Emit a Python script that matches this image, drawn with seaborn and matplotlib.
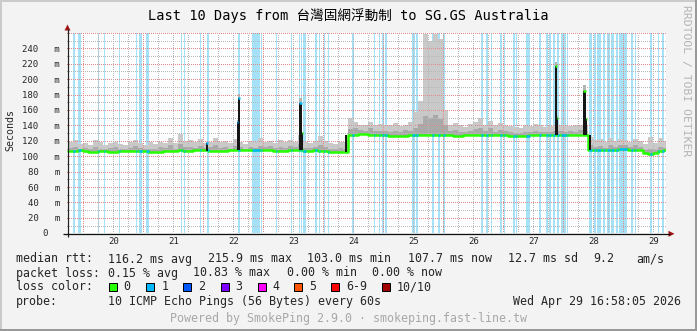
import numpy as np
import pandas as pd
import matplotlib
matplotlib.use("Agg")
import matplotlib.pyplot as plt
from matplotlib import transforms as mtransforms
from matplotlib.patches import Polygon, Rectangle
import seaborn as sns

# ---------------- data (hours since Apr 20 00:00, values in ms) ----------------
bin_hours = np.arange(-6, 234, 2)          # 2-hour bins
end_hour = 232.97                          # Apr 29 16:58

median_ms = [
    107, 107, 107.5,
    107, 105.5, 105.5, 107, 107, 105.5, 105.5, 107, 107, 107, 107, 107,
    107, 105.5, 105.5, 105.5, 107, 107, 107, 107.5, 107, 107, 107.5, 107.5,
    108, 107, 107, 107, 107, 107.5, 108, 108, 107.5, 107.5, 107.5, 108,
    108, 108, 107, 107, 107, 107.5, 108, 107.5, 107, 107, 107.5, 106.5,
    106.5, 106, 106, 106, 106, 127.5, 128, 128.5, 128.5, 128, 128, 128,
    128, 126.5, 126.5, 126.5, 126.5, 127, 128, 128, 128, 128, 128, 128,
    128, 127, 126.5, 126.5, 127, 128, 128, 128, 128, 128, 128, 128,
    128, 126.5, 126, 126, 126.5, 128, 128, 128, 128, 128, 128, 128,
    128, 128, 128, 128, 128, 108, 108, 108, 108, 108.5, 108.5, 110,
    110, 108, 107.5, 107.5, 104, 103.5, 104, 107, 107.5,
]
smoke_top_ms = [
    118, 121, 116,
    117, 114, 121, 118, 115, 117, 119, 116, 114, 118, 121, 117,
    115, 118, 116, 119, 117, 124, 117, 129, 120, 121, 118, 122,
    117, 119, 124, 118, 120, 117, 122, 119, 116, 120, 118, 123,
    118, 120, 117, 121, 118, 121, 119, 128, 118, 117, 120, 126,
    120, 117, 116, 119, 118, 150, 145, 141, 140, 145, 141, 142,
    141, 140, 143, 139, 141, 144, 158, 171, 258, 250, 258, 252,
    160, 141, 143, 140, 138, 142, 145, 150, 141, 146, 140, 143,
    141, 139, 138, 137, 140, 139, 142, 140, 138, 139, 141, 140,
    140, 139, 141, 140, 140, 125, 121, 122, 119, 123, 120, 122,
    121, 118, 122, 120, 116, 125, 117, 123, 120,
]
smoke_inner_ms = [
    111, 112, 110,
    111, 109, 112, 110, 109, 111, 112, 110, 110, 111, 113, 111,
    110, 110, 109, 112, 111, 114, 110, 116, 112, 112, 111, 113,
    111, 112, 114, 111, 112, 110, 113, 112, 110, 112, 111, 113,
    112, 113, 111, 112, 111, 113, 112, 116, 111, 111, 112, 114,
    112, 110, 109, 111, 110, 135, 136, 134, 133, 136, 133, 133,
    133, 132, 133, 131, 134, 133, 137, 142, 152, 150, 153, 148,
    140, 133, 134, 132, 131, 133, 135, 136, 133, 136, 132, 134,
    133, 131, 130, 130, 132, 131, 133, 132, 131, 132, 133, 133,
    132, 133, 131, 134, 133, 114, 112, 113, 111, 114, 112, 114,
    114, 112, 114, 112, 108, 110, 108, 112, 111,
]

loss_start_h = [-4.1, -2.2, 5.8, 8.3, 14.3, 21.1, 22.3, 25.1, 39.1, 40.2, 46.7, 49.4,
                61.9, 67.5, 71.0, 77.2, 83.2, 86.3, 87.1, 88.0, 92.7, 94.2, 96.3, 97.9,
                107.5, 116.3, 118.3, 119.6, 120.8, 131.6, 133.2, 139.4, 141.8, 144.0,
                159.1, 161.2, 162.9, 166.6, 168.1, 171.9, 173.1, 177.0, 182.4, 185.1,
                186.4, 188.0, 189.4, 191.1, 193.4, 202.4, 204.3, 205.4, 208.0, 209.6,
                211.2, 213.0, 214.4, 219.0, 220.7, 226.7, 229.8, 231.5]
loss_end_h = [-3.3, -1.0, 6.2, 8.7, 14.7, 21.5, 23.4, 26.3, 39.5, 40.7, 47.1, 50.3,
              62.7, 70.6, 71.6, 77.6, 83.6, 86.8, 87.6, 89.1, 93.6, 94.8, 96.8, 98.4,
              108.2, 116.7, 118.7, 120.3, 121.5, 132.8, 133.8, 140.3, 142.7, 144.7,
              159.8, 161.9, 163.6, 167.3, 168.8, 172.5, 173.6, 178.6, 183.1, 185.7,
              187.0, 188.6, 190.2, 193.0, 194.0, 203.5, 205.0, 207.0, 208.8, 210.6,
              212.3, 214.0, 217.4, 219.9, 221.1, 227.6, 230.3, 232.3]

spike_start_h = [49.0, 61.4, 62.0, 86.4, 87.5, 104.7, 188.7, 189.6, 200.0, 201.1, 202.3]
spike_end_h   = [50.0, 62.0, 62.7, 87.5, 88.0, 105.6, 189.6, 190.0, 201.1, 201.6, 203.1]
spike_low_ms  = [107, 107.5, 107.5, 108, 108, 106, 128, 128, 128, 128, 108]
spike_high_ms = [117.5, 145, 175, 169, 130, 128, 216.5, 150, 185, 148, 128]
spike_tip_ms  = [119, 147, 181, 176, 132, 128, 222, 152, 192, 150, 128]
spike_loss    = ['1', '1', '1', '1', '0', None, '0', '0', '0', '0', None]

day_ticks_h = [12, 36, 60, 84, 108, 132, 156, 180, 204, 228]
day_labels = ['20', '21', '22', '23', '24', '25', '26', '27', '28', '29']
y_ticks = [0, 20, 40, 60, 80, 100, 120, 140, 160, 180, 200, 220, 240]

loss_labels = ['0', '1', '2', '3', '4', '5', '6-9', '10/10']
loss_colors = ['#26ff00', '#00b8ff', '#0059ff', '#7e00ff', '#ff00ff', '#ff5500', '#ff0000', '#a10000']

title = 'Last 10 Days from 台灣固網浮動制 to SG.GS Australia'
row_rtt = ['median rtt:', '116.2 ms avg', '215.9 ms max', '103.0 ms min', '107.7 ms now',
           '12.7 ms sd', '9.2', 'am/s']
row_loss = ['packet loss:', '0.15 % avg', '10.83 % max', '0.00 % min', '0.00 % now']
probe_text = '10 ICMP Echo Pings (56 Bytes) every 60s'
stamp_text = 'Wed Apr 29 16:58:05 2026'
powered_text = 'Powered by SmokePing 2.9.0 · smokeping.fast-line.tw'
watermark = 'RRDTOOL / TOBI OETIKER'

# ---------------- style ----------------
sns.set_style('white')
plt.rcParams['font.family'] = ['DejaVu Sans Mono', 'Noto Sans CJK TC']

W, H = 697, 331
BG = '#f3f3f3'
STRIPE = '#a6e2f7'
SMOKE_OUT = '#c9c9c9'
SMOKE_IN = '#a9a9a9'
GRID = '#b8b8b8'
MGRID = '#e08a8a'
LOSS_MAP = dict(zip(loss_labels, loss_colors))
MED_LW = 1.8

fig = plt.figure(figsize=(W / 100, H / 100), dpi=100, facecolor=BG)
px_left, px_right, px_top, px_bottom = 67, 666, 32.5, 233.3
ax = fig.add_axes([px_left / W, (H - px_bottom) / H, (px_right - px_left) / W,
                   (px_bottom - px_top) / H])
ax.set_facecolor('white')
ax.set_xlim(-6.52, 233.08)
ax.set_ylim(0, 260.5)
for s in ax.spines.values():
    s.set_visible(False)

# data frame for the median / smoke
xe = np.append(bin_hours, end_hour)
df = pd.DataFrame({
    'hour': xe,
    'median': np.append(median_ms, median_ms[-1]),
    'top': np.append(smoke_top_ms, smoke_top_ms[-1]),
    'inner': np.append(smoke_inner_ms, smoke_inner_ms[-1]),
})

# loss stripes
for s, e in zip(loss_start_h, loss_end_h):
    ax.axvspan(s, e, color=STRIPE, lw=0, zorder=1)

# smoke
ax.fill_between(df['hour'], df['median'], df['top'], step='post', color=SMOKE_OUT, lw=0, zorder=2)
ax.fill_between(df['hour'], df['median'], df['inner'], step='post', color=SMOKE_IN, lw=0, zorder=3)

# grid (crisp 1px dotted)
dot = (0, (0.7, 1.4))
for v in range(10, 261, 10):
    ax.axhline(v, color=(MGRID if v % 20 == 0 else GRID), lw=0.72, ls=dot, zorder=4,
               antialiased=False)
for h in range(-6, 234, 6):
    ax.axvline(h, color=(MGRID if h % 24 == 0 else GRID), lw=0.72, ls=dot, zorder=4,
               antialiased=False)

# median line (loss 0 colour)
sns.lineplot(data=df, x='hour', y='median', drawstyle='steps-post', color=LOSS_MAP['0'],
             lw=MED_LW, estimator=None, sort=False, ax=ax, zorder=7)
# median segments during loss periods
for s, e in zip(loss_start_h, loss_end_h):
    idx = int((0.5 * (s + e) - bin_hours[0]) // 2)
    ax.hlines(median_ms[idx], s, e, color=LOSS_MAP['1'], lw=MED_LW, zorder=7.5)

# spikes
sw = np.array(spike_end_h) - np.array(spike_start_h)
ax.bar(spike_start_h, np.array(spike_tip_ms) - np.array(spike_high_ms), bottom=spike_high_ms,
       width=sw, align='edge', color='#b4b4b4', lw=0, zorder=3)
ax.bar(spike_start_h, np.array(spike_high_ms) - np.array(spike_low_ms), bottom=spike_low_ms,
       width=sw, align='edge', color='#161616', lw=0, zorder=8)
for s, e, hi, lc in zip(spike_start_h, spike_end_h, spike_high_ms, spike_loss):
    if lc is not None:
        ax.hlines(hi, s, e, color=LOSS_MAP[lc], lw=MED_LW, zorder=9)

# ticks
ax.set_xticks(day_ticks_h, labels=day_labels)
ax.set_yticks(y_ticks[1:], labels=[f'{v}   m' for v in y_ticks[1:]])
ax.tick_params(axis='x', length=0, pad=2.5, labelsize=6.5)
ax.tick_params(axis='y', length=0, pad=5.0, labelsize=6.5)
ax.set_xlabel('')
ax.set_ylabel('')
ax.text(-(px_left - 47.4) / (px_right - px_left), 0, str(y_ticks[0]), ha='right', va='center',
        fontsize=6.5, transform=mtransforms.blended_transform_factory(ax.transAxes, ax.transData))

# ---------------- overlay in pixel coordinates ----------------
ov = fig.add_axes([0, 0, 1, 1], zorder=10)
ov.set_xlim(0, W)
ov.set_ylim(H, 0)
ov.axis('off')
ov.patch.set_alpha(0)

# frame
ov.add_patch(Rectangle((0, 0), W, 2, color='#cbcbcb', lw=0))
ov.add_patch(Rectangle((0, 0), 2, H, color='#cbcbcb', lw=0))
ov.add_patch(Rectangle((0, H - 2), W, 2, color='#999999', lw=0))
ov.add_patch(Rectangle((W - 2, 0), 2, H, color='#999999', lw=0))

# axes lines with arrows
ov.plot([67.5, 67.5], [237, 29], color='#202020', lw=0.9, solid_capstyle='butt')
ov.plot([63, 670], [233.8, 233.8], color='#101010', lw=0.9, solid_capstyle='butt')
ov.add_patch(Polygon([(64.5, 30.5), (70.5, 30.5), (67.5, 24.5)], closed=True, color='#a01414', lw=0))
ov.add_patch(Polygon([(668.5, 230.8), (668.5, 236.8), (674.5, 233.8)], closed=True, color='#a01414', lw=0))

# title / labels
ov.text(348.5, 15.5, title, ha='center', va='center', fontsize=9.8,
        family=['DejaVu Sans Mono', 'Noto Sans CJK TC'], color='#000000')
ov.text(10, 130, 'Seconds', rotation=90, ha='center', va='center', fontsize=7.2)
ov.text(686, 81, watermark, rotation=270, ha='center', va='center', fontsize=8.2, color='#b4b4b4')

LFS = 8.4
rtt_x = [15.6, 108, 207.6, 306.7, 407.6, 507.6, 593, 636.4]
for x, s in zip(rtt_x, row_rtt):
    ov.text(x, 262.5, s, ha='left', va='baseline', fontsize=LFS)
loss_x = [15.6, 108, 193.3, 286.7, 372.4]
for x, s in zip(loss_x, row_loss):
    ov.text(x, 276.5, s, ha='left', va='baseline', fontsize=LFS)
ov.text(15.6, 290.5, 'loss color:', ha='left', va='baseline', fontsize=LFS)
box_x = [108, 145.8, 182.7, 220, 257, 293.8, 330.2, 381.3]
for x, lab, col in zip(box_x, loss_labels, loss_colors):
    ov.add_patch(Rectangle((x + 0.5, 282.5), 8, 8, facecolor=col, edgecolor='#000000', lw=0.72))
    ov.text(x + 15.6, 290.5, lab, ha='left', va='baseline', fontsize=LFS)
ov.text(15.6, 304.5, 'probe:', ha='left', va='baseline', fontsize=LFS)
ov.text(108, 304.5, probe_text, ha='left', va='baseline', fontsize=LFS)
ov.text(681, 304.5, stamp_text, ha='right', va='baseline', fontsize=LFS)
ov.text(348.5, 322, powered_text, ha='center', va='baseline', fontsize=LFS, color='#a8a8a8')

fig.savefig('out.png', dpi=100, facecolor=BG)
